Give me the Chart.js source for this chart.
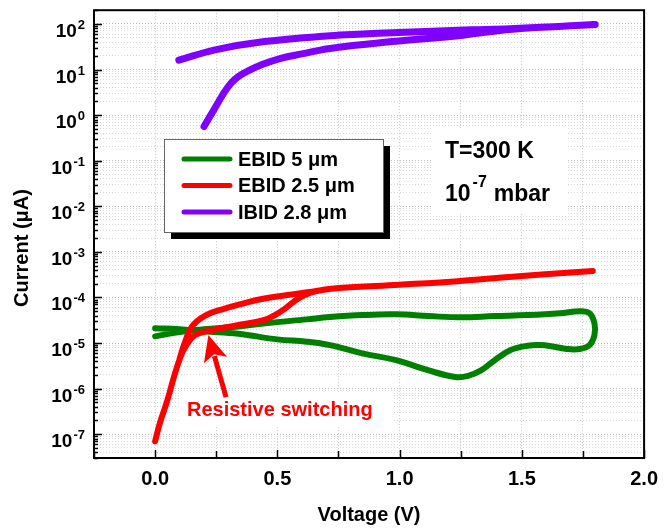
<!DOCTYPE html>
<html>
<head>
<meta charset="utf-8">
<script src="https://cdn.jsdelivr.net/npm/chart.js@4.4.1/dist/chart.umd.min.js"></script>
<style>
  html, body { margin: 0; padding: 0; background: #fff; }
  canvas { display: block; }
</style>
</head>
<body>
<canvas id="ivChart" width="667" height="529"></canvas>
<script>
// I-V sweeps: voltage in V, current in uA
const ebid5Voltage = [0, 0.1, 0.2, 0.34, 0.45, 0.62, 0.715, 0.848, 0.985, 1.119, 1.252, 1.389, 1.523, 1.656, 1.737, 1.777, 1.797, 1.797, 1.777, 1.737, 1.684, 1.632, 1.575, 1.523, 1.454, 1.389, 1.333, 1.28, 1.228, 1.119, 0.985, 0.848, 0.715, 0.62, 0.5, 0.34, 0.2, 0.1, 0];
const ebid5Current = [1.4e-5, 1.75e-5, 2.0e-5, 2.3e-5, 2.7e-5, 3.3e-5, 3.7e-5, 4.1e-5, 4.25e-5, 3.9e-5, 3.65e-5, 3.9e-5, 4.1e-5, 4.5e-5, 5.0e-5, 4.5e-5, 2.7e-5, 1.5e-5, 9.0e-6, 7.4e-6, 7.4e-6, 8.3e-6, 9.0e-6, 8.7e-6, 7.0e-6, 4.2e-6, 2.5e-6, 1.9e-6, 1.8e-6, 2.5e-6, 4.2e-6, 5.9e-6, 9.0e-6, 1.07e-5, 1.2e-5, 1.6e-5, 1.8e-5, 2.0e-5, 2.1e-5];

const ebid25Voltage = [0, 0.02, 0.05, 0.077, 0.104, 0.128, 0.164, 0.23, 0.326, 0.447, 0.49, 0.53, 0.57, 0.61, 0.66, 0.75, 1.0, 1.25, 1.5, 1.79, 1.5, 1.25, 1.0, 0.75, 0.622, 0.528, 0.447, 0.38, 0.285, 0.205, 0.151, 0.118, 0.1];
const ebid25Current = [7e-8, 1.8e-7, 5.5e-7, 1.8e-6, 5e-6, 9e-6, 1.5e-5, 1.9e-5, 2.4e-5, 3.2e-5, 4.1e-5, 5.6e-5, 8.3e-5, 1.12e-4, 1.38e-4, 1.6e-4, 1.9e-4, 2.3e-4, 2.95e-4, 3.8e-4, 2.95e-4, 2.3e-4, 1.9e-4, 1.6e-4, 1.3e-4, 1.1e-4, 9.5e-5, 7.9e-5, 5.7e-5, 4.0e-5, 2.3e-5, 9e-6, 4.5e-6];

const ibidVoltage = [0.2, 0.225, 0.25, 0.28, 0.31, 0.34, 0.38, 0.44, 0.514, 0.6, 0.715, 0.97, 1.24, 1.35, 1.51, 1.65, 1.8, 1.65, 1.51, 1.35, 1.24, 0.97, 0.85, 0.715, 0.447, 0.245, 0.097];
const ibidCurrent = [0.56, 0.95, 1.6, 3.0, 5.0, 7.0, 9.3, 13, 17.6, 22, 29, 41, 55, 66, 80, 88, 97, 88, 81, 75, 73, 64, 60, 55, 41, 27, 16];

const seriesLabels = ['EBID 5 \u03bcm', 'EBID 2.5 \u03bcm', 'IBID 2.8 \u03bcm'];
const seriesColors = ['#008000', '#ff0000', '#8000ff'];

const xTickValues = [0, 0.5, 1.0, 1.5, 2.0];
const yDecades = [-7, -6, -5, -4, -3, -2, -1, 0, 1, 2];

const FONT = "'Liberation Sans', Arial, sans-serif";

function toPoints(xs, ys) {
    return xs.map((x, i) => ({ x: x, y: ys[i] }));
}

// every 1..9 x 10^n inside the axis range, decades flagged major
function logGridTicks(min, max) {
    const out = [];
    for (let d = -8; d <= 2; d += 1) {
        for (let m = 1; m <= 9; m += 1) {
            const v = m * Math.pow(10, d);
            if (v >= min && v <= max) out.push({ value: v, major: m === 1 });
        }
    }
    return out;
}

const decorations = {
    id: 'decorations',
    beforeDatasetsDraw(chart) {
        // white patches behind the annotation texts
        const ctx = chart.ctx;
        ctx.save();
        ctx.fillStyle = '#fff';
        ctx.fillRect(433, 128, 134, 86);
        ctx.fillRect(180, 393, 214, 32);
        ctx.restore();
    },
    afterDatasetsDraw(chart) {
        const ctx = chart.ctx;
        const area = chart.chartArea;
        const xs = chart.scales.x;
        const ys = chart.scales.y;
        ctx.save();

        // arrow pointing at the switching point
        const tailX = xs.getPixelForValue(0.29), tailY = ys.getPixelForValue(6.5e-7);
        const tipX = xs.getPixelForValue(0.218), tipY = ys.getPixelForValue(1.5e-5);
        const ang = Math.atan2(tipY - tailY, tipX - tailX);
        const headLen = 26, headHalf = 12;
        const baseX = tipX - headLen * Math.cos(ang), baseY = tipY - headLen * Math.sin(ang);
        ctx.strokeStyle = '#ff0000';
        ctx.fillStyle = '#ff0000';
        ctx.lineWidth = 5;
        ctx.lineCap = 'butt';
        ctx.beginPath();
        ctx.moveTo(tailX, tailY);
        ctx.lineTo(baseX + 4 * Math.cos(ang), baseY + 4 * Math.sin(ang));
        ctx.stroke();
        ctx.beginPath();
        ctx.moveTo(tipX, tipY);
        ctx.lineTo(baseX + headHalf * Math.sin(ang), baseY - headHalf * Math.cos(ang));
        ctx.lineTo(baseX + 6 * Math.cos(ang), baseY + 6 * Math.sin(ang));
        ctx.lineTo(baseX - headHalf * Math.sin(ang), baseY + headHalf * Math.cos(ang));
        ctx.closePath();
        ctx.fill();

        ctx.font = 'bold 20px ' + FONT;
        ctx.textAlign = 'left';
        ctx.textBaseline = 'alphabetic';
        ctx.fillText('Resistive switching', 187, 416);

        // conditions
        ctx.fillStyle = '#000';
        ctx.font = 'bold 23px ' + FONT;
        ctx.fillText('T=300 K', 445, 158);
        ctx.fillText('10', 445, 201);
        let w = ctx.measureText('10').width;
        ctx.font = 'bold 16px ' + FONT;
        ctx.fillText('-7', 445 + w + 2, 187);
        const w2 = ctx.measureText('-7').width;
        ctx.font = 'bold 23px ' + FONT;
        ctx.fillText('mbar', 445 + w + w2 + 9, 201);

        // inward tick marks
        ctx.strokeStyle = '#000';
        ctx.lineWidth = 1.5;
        ctx.beginPath();
        ys.ticks.forEach((t) => {
            const py = Math.round(ys.getPixelForValue(t.value)) + 0.5;
            const len = t.major ? 8 : 4;
            ctx.moveTo(area.left, py);
            ctx.lineTo(area.left + len, py);
        });
        xs.ticks.forEach((t) => {
            const px = Math.round(xs.getPixelForValue(t.value)) + 0.5;
            const len = xTickValues.indexOf(t.value) >= 0 ? 8 : 7;
            ctx.moveTo(px, area.bottom);
            ctx.lineTo(px, area.bottom - len);
        });
        ctx.stroke();

        // frame
        ctx.lineWidth = 2;
        ctx.strokeRect(area.left, area.top, area.right - area.left, area.bottom - area.top);
        ctx.restore();
    },
    afterDraw(chart) {
        const ctx = chart.ctx;
        const ys = chart.scales.y;
        ctx.save();
        ctx.fillStyle = '#000';
        ctx.textBaseline = 'alphabetic';
        ctx.textAlign = 'right';

        // log tick labels with superscript exponents
        yDecades.forEach((d) => {
            const py = ys.getPixelForValue(Math.pow(10, d));
            const exp = String(d);
            ctx.font = 'bold 13px ' + FONT;
            const ew = ctx.measureText(exp).width;
            ctx.fillText(exp, 85, py + 5);
            ctx.font = 'bold 19px ' + FONT;
            ctx.fillText('10', 85 - ew - 1, py + 13);
        });

        // y axis title
        ctx.save();
        ctx.translate(22, 248);
        ctx.rotate(-Math.PI / 2);
        ctx.textAlign = 'center';
        ctx.textBaseline = 'middle';
        ctx.font = 'bold 20px ' + FONT;
        ctx.fillText('Current (\u03bcA)', 0, 0);
        ctx.restore();

        // legend box with drop shadow
        const lx = 164, ly = 139, lw = 219, lh = 93;
        ctx.fillStyle = '#000';
        ctx.fillRect(lx + 7, ly + 7, lw, lh);
        ctx.fillStyle = '#fff';
        ctx.fillRect(lx, ly, lw, lh);
        ctx.strokeStyle = '#666';
        ctx.lineWidth = 1;
        ctx.strokeRect(lx + 0.5, ly + 0.5, lw, lh);
        ctx.textAlign = 'left';
        ctx.textBaseline = 'middle';
        ctx.font = 'bold 20px ' + FONT;
        ctx.lineCap = 'round';
        chart.data.datasets.forEach((ds, i) => {
            const ry = 159 + i * 26.5;
            ctx.strokeStyle = ds.borderColor;
            ctx.lineWidth = 5;
            ctx.beginPath();
            ctx.moveTo(184, ry);
            ctx.lineTo(230, ry);
            ctx.stroke();
            ctx.fillStyle = '#000';
            ctx.fillText(ds.label, 238, ry + 1);
        });
        ctx.restore();
    }
};

new Chart(document.getElementById('ivChart').getContext('2d'), {
    type: 'scatter',
    data: {
        datasets: [
            { label: seriesLabels[0], data: toPoints(ebid5Voltage, ebid5Current), borderColor: seriesColors[0], borderWidth: 6, order: 1 },
            { label: seriesLabels[1], data: toPoints(ebid25Voltage, ebid25Current), borderColor: seriesColors[1], borderWidth: 6, order: 0 },
            { label: seriesLabels[2], data: toPoints(ibidVoltage, ibidCurrent), borderColor: seriesColors[2], borderWidth: 7, order: 2 }
        ].map((ds) => Object.assign(ds, {
            showLine: true,
            pointRadius: 0,
            pointHoverRadius: 0,
            tension: 0.4,
            borderCapStyle: 'round',
            borderJoinStyle: 'round',
            backgroundColor: ds.borderColor
        }))
    },
    options: {
        responsive: false,
        devicePixelRatio: 1,
        animation: false,
        layout: { padding: { top: 10, right: 16, left: 0, bottom: 0 } },
        plugins: {
            legend: { display: false },
            tooltip: { enabled: false }
        },
        scales: {
            x: {
                type: 'linear',
                min: -0.25,
                max: 2.0,
                afterFit: (scale) => { scale.height = 71; },
                ticks: {
                    stepSize: 0.25,
                    autoSkip: false,
                    maxRotation: 0,
                    padding: 9,
                    color: '#000',
                    font: { family: FONT, size: 20, weight: 'bold' },
                    callback: (value) => (xTickValues.indexOf(value) >= 0 ? value.toFixed(1) : '')
                },
                grid: { drawTicks: false, color: '#c8c8c8', lineWidth: 1 },
                border: { display: false, dash: [1, 2] },
                title: {
                    display: true,
                    text: 'Voltage (V)',
                    color: '#000',
                    font: { family: FONT, size: 20, weight: 'bold' },
                    padding: { top: 0, bottom: 2 }
                }
            },
            y: {
                type: 'logarithmic',
                min: 3e-8,
                max: 200,
                afterFit: (scale) => { scale.width = 94; },
                afterBuildTicks: (scale) => { scale.ticks = logGridTicks(scale.min, scale.max); },
                ticks: { autoSkip: false, callback: () => '' },
                grid: {
                    drawTicks: false,
                    lineWidth: 1,
                    color: (ctx) => (ctx.tick && ctx.tick.major ? '#bdbdbd' : '#d6d6d6')
                },
                border: { display: false, dash: [1, 2] }
            }
        }
    },
    plugins: [decorations]
});
</script>
</body>
</html>
